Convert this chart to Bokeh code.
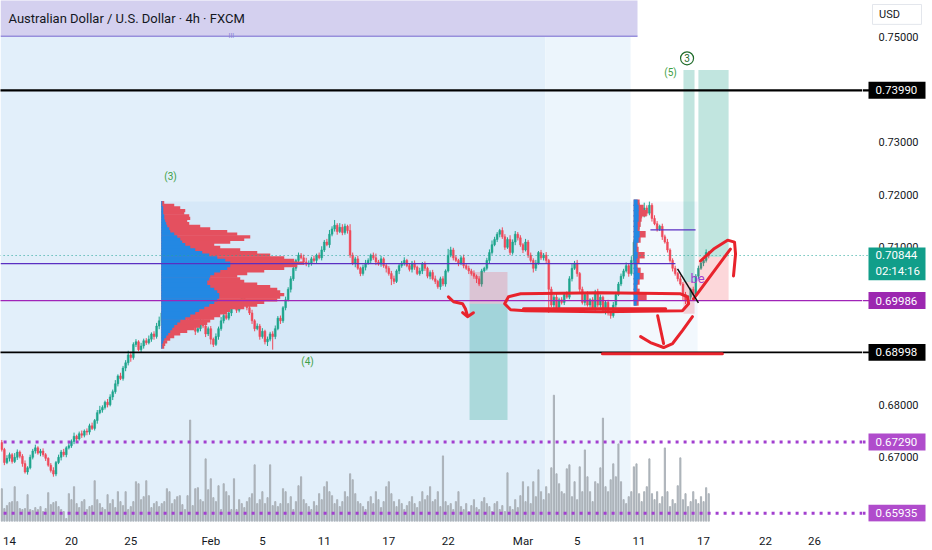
import numpy as np
from bokeh.plotting import figure
from bokeh.layouts import row
from bokeh.models import Range1d, FixedTicker, ColumnDataSource
from bokeh.core.properties import value
from bokeh.embed import file_html
from bokeh.resources import INLINE

PIP = 0.0001

# ---------------- price data (4h bars, prices in pips) ----------------
first_open = 6728
closes = [
    6715, 6690, 6698, 6705, 6692, 6700, 6710, 6702,
    6688, 6672, 6680, 6700, 6712,
    6718, 6708, 6712, 6705, 6698,
    6685, 6675, 6668, 6690,
    6700, 6710, 6705, 6718, 6722, 6730,
    6740, 6735, 6745, 6742, 6750, 6748,
    6760, 6755, 6770, 6785, 6790,
    6795, 6805, 6800, 6815, 6825,
    6840, 6855, 6850, 6870, 6880,
    6895, 6890,
    6915, 6920, 6905, 6912, 6922, 6918,
    6925, 6935, 6930, 6950, 6960,
    6975, 6965, 6980, 6990, 6970, 6960, 6975, 6985, 6970,
    6960, 6950, 6965, 6955, 6940, 6945, 6960, 6950, 6935, 6945,
    6925, 6915, 6930, 6945, 6960, 6970, 6965, 6975,
    6985, 6995, 6980, 6990, 7005, 6995, 6985, 6975,
    6960, 6945, 6950, 6930, 6940, 6920, 6925, 6935,
    6930,
    6945, 6965, 6960, 6985, 7000, 7020, 7040,
    7060, 7075, 7085, 7080, 7072, 7068,
    7070, 7078, 7075, 7085, 7080,
    7095, 7110, 7105, 7125,
    7135, 7142, 7130, 7138, 7128, 7140, 7132,
    7085, 7070, 7078, 7060, 7050, 7062, 7070,
    7075, 7085, 7080, 7072, 7068, 7078, 7065, 7060,
    7050, 7040, 7035, 7055, 7065, 7070,
    7075, 7065, 7058, 7070, 7062, 7050, 7055, 7068, 7060, 7045, 7052, 7040,
    7035, 7025, 7040, 7030,
    7055, 7085, 7095, 7080,
    7075, 7070, 7080, 7065, 7060, 7055, 7050,
    7045, 7040, 7030, 7055, 7060,
    7075, 7090, 7105, 7115, 7125, 7132, 7120,
    7100, 7115, 7090, 7110, 7125, 7118,
    7105, 7095, 7110, 7085, 7075,
    7060, 7070, 7090, 7080, 7085,
    7075, 7020, 6990, 7005, 6985, 7000,
    6995, 7010, 7005,
    7040, 7060, 7070, 7050,
    7020, 6995, 7010, 6990,
    7000, 6985, 7015, 6990, 7005, 6980, 6995,
    6975, 6970,
    6990, 7010, 7030, 7045,
    7055, 7065, 7050, 7075,
    7110, 7140, 7170, 7160,
    7175, 7165, 7180, 7155, 7145,
    7135, 7140, 7120, 7110,
    7095, 7075, 7060, 7050,
    7040, 7030, 7010, 6998,
    7005, 7020, 7010,
    7045, 7060, 7070,
    7075, 7090, 7084,
]
wick_up = [
    5, 3, 6, 4, 3, 8, 5, 3, 4, 6, 3, 5, 4, 6, 3, 4, 5, 3, 2, 4,
    6, 3, 5, 4, 6, 3, 5, 4, 7, 3, 4, 6, 3, 5, 4, 6, 3, 5, 8, 4,
    3, 6, 5, 4, 7, 3, 6, 4, 5, 8, 6, 4, 5, 3, 6, 4, 5, 7, 3, 5,
    6, 8, 4, 5, 3, 6, 5, 4, 7, 3, 5, 4, 6, 3, 5, 4, 7, 5, 3, 6,
    4, 5, 3, 6, 4, 7, 5, 3, 6, 4, 5, 6, 4, 8, 3, 5, 4, 6, 3, 5,
    4, 6, 3, 5, 4, 5, 6, 4, 5, 3, 6, 4, 5, 7, 3, 5, 4, 6, 8, 5,
    4, 6, 3, 5, 7, 4, 6, 8, 5, 10, 4, 8, 6, 5, 3, 12, 5, 4, 6, 3,
    5, 6, 4, 3, 5, 8, 4, 6, 3, 5, 4, 5, 6, 3, 5, 4, 6, 3, 5, 4,
    5, 3, 6, 4, 5, 3, 4, 5, 6, 3, 4, 5, 3, 12, 6, 4, 5, 3, 4, 6,
    3, 5, 4, 6, 3, 5, 4, 3, 5, 6, 8, 5, 4, 3, 6, 5, 4, 8, 5, 6,
    4, 5, 3, 6, 4, 5, 4, 6, 3, 5, 4, 6, 3, 5, 4, 6, 4, 5, 3, 6,
    5, 8, 4, 6, 3, 5, 4, 6, 3, 5, 4, 6, 5, 3, 4, 5, 4, 6, 5, 4,
    5, 4, 6, 3, 8, 5, 6, 15, 8, 10, 5, 7, 4, 6, 5, 3, 5, 4, 6, 3,
    4, 5, 3, 6, 4, 5, 4, 3, 5, 4, 5, 3, 4, 6, 3,
]
wick_dn = [
    4, 5, 3, 6, 4, 3, 5, 4, 6, 3, 5, 3, 4, 5, 3, 6, 4, 5, 3, 4,
    5, 4, 3, 6, 4, 5, 3, 4, 5, 6, 3, 5, 4, 6, 5, 3, 4, 6, 3, 5,
    4, 5, 3, 6, 4, 5, 3, 4, 6, 5, 8, 4, 5, 3, 6, 5, 4, 3, 5, 6,
    4, 6, 5, 3, 4, 6, 5, 3, 6, 4, 5, 3, 6, 4, 5, 7, 3, 5, 4, 6,
    4, 10, 5, 3, 6, 4, 5, 3, 4, 6, 3, 5, 4, 6, 3, 5, 4, 6, 5, 3,
    6, 4, 5, 8, 4, 25, 5, 3, 6, 4, 5, 3, 6, 4, 5, 7, 3, 5, 4, 6,
    5, 4, 6, 3, 5, 4, 3, 6, 4, 5, 6, 3, 5, 4, 6, 5, 4, 8, 3, 5,
    4, 6, 3, 5, 4, 6, 3, 5, 4, 8, 4, 12, 5, 3, 6, 4, 5, 3, 4, 6,
    5, 3, 4, 6, 5, 4, 6, 3, 5, 4, 6, 4, 5, 3, 4, 5, 3, 6, 4, 5,
    3, 6, 4, 5, 8, 4, 5, 3, 4, 6, 4, 3, 5, 6, 4, 5, 3, 5, 4, 6,
    5, 4, 6, 3, 5, 4, 8, 5, 3, 4, 5, 6, 45, 4, 8, 5, 6, 4, 5, 3,
    4, 5, 3, 6, 5, 4, 6, 3, 5, 4, 6, 4, 5, 3, 8, 5, 6, 4, 5, 3,
    4, 5, 3, 6, 4, 5, 4, 6, 5, 3, 5, 4, 6, 3, 5, 4, 6, 3, 5, 4,
    6, 4, 5, 3, 12, 6, 4, 5, 3, 4, 5, 3, 6, 4, 5,
]
volume = [
    33, 13, 16, 19, 20, 35, 20, 13, 12, 13, 27, 12, 11, 14, 12, 15, 10, 13, 29, 17,
    19, 20, 15, 12, 10, 3, 28, 22, 35, 18, 14, 20, 22, 12, 15, 16, 41, 22, 18, 14,
    12, 27, 18, 22, 14, 30, 20, 16, 30, 12, 15, 20, 40, 38, 22, 25, 41, 26, 14, 18,
    20, 15, 18, 20, 33, 30, 18, 22, 25, 26, 17, 12, 26, 102, 16, 33, 34, 22, 20, 63,
    32, 43, 24, 20, 36, 12, 38, 30, 26, 12, 43, 12, 22, 18, 14, 20, 24, 28, 57, 18,
    22, 30, 18, 24, 57, 16, 20, 15, 18, 33, 30, 18, 25, 12, 20, 36, 45, 22, 18, 15,
    12, 20, 16, 28, 22, 35, 40, 30, 26, 18, 22, 15, 20, 30, 25, 48, 42, 28, 20, 18,
    15, 12, 20, 25, 18, 30, 22, 14, 20, 35, 40, 28, 20, 15, 22, 18, 12, 16, 20, 25,
    18, 14, 20, 30, 22, 26, 35, 20, 22, 30, 15, 66, 20, 16, 18, 12, 20, 30, 15, 12,
    18, 10, 16, 22, 14, 12, 20, 24, 18, 15, 10, 18, 20, 12, 16, 10, 49, 15, 12, 22,
    14, 26, 40, 20, 35, 18, 40, 25, 52, 30, 22, 35, 28, 54, 127, 48, 38, 30, 28, 53,
    57, 25, 40, 22, 55, 30, 72, 45, 30, 20, 40, 38, 54, 104, 35, 30, 42, 58, 45, 78,
    40, 22, 18, 25, 30, 55, 58, 28, 20, 30, 35, 63, 28, 22, 30, 18, 25, 74, 30, 15,
    22, 18, 36, 64, 22, 28, 15, 20, 30, 22, 18, 25, 20, 34, 28,
]

# x axis (bar index of each date label)
tick_bars = [3, 27, 50, 81, 101, 125, 150, 173, 202, 223, 247, 272, 296, 315]
tick_labels = ["14", "20", "25", "Feb", "5", "11", "17", "22", "Mar", "5", "11", "17", "22", "26"]
price_ticks = [0.67, 0.68, 0.71, 0.72, 0.73, 0.75]

# levels
level_top = 0.73990
level_support = 0.68998
level_mid = 0.69986
level_poc = 0.7069
level_short = 0.7133
last_price = 0.70844
countdown = "02:14:16"
dotted_levels = [0.67290, 0.65935]

# fixed-range volume profile (rows of 5 pips from 7185 down to 6910)
vp1_prices = list(range(7185, 6905, -5))
vp1_total = [3, 13, 19, 24, 23, 28, 29, 26, 28, 39, 49, 66, 76, 89, 83, 69, 53, 59, 79, 96,
             109, 123, 133, 143, 136, 123, 103, 86, 76, 79, 83, 96, 109, 116, 119, 123, 119, 116, 103, 96,
             83, 69, 66, 59, 53, 49, 46, 39, 33, 26, 19, 13, 9, 6, 4, 3]
vp1_up = [1, 1, 2, 2, 2, 3, 3, 4, 5, 6, 8, 9, 13, 16, 19, 21, 24, 29, 34, 41,
          48, 56, 64, 69, 69, 66, 59, 53, 49, 48, 46, 46, 49, 53, 56, 58, 58, 56, 53, 48,
          43, 38, 34, 29, 24, 19, 16, 13, 11, 9, 7, 5, 3, 2, 1, 1]
# small session profile (rows of 10 pips from 7185 down to 6995)
vp2_prices = list(range(7185, 6985, -10))
vp2_total = [6, 10, 13, 8, 7, 6, 12, 7, 4, 5, 11, 6, 4, 7, 10, 6, 4, 6, 13, 5]
vp2_up = [4, 5, 5, 5, 4, 4, 6, 5, 3, 3, 4, 3, 3, 4, 6, 4, 3, 3, 4, 3]

# ---------------- derived OHLC ----------------
c = np.array(closes) * PIP
o = np.concatenate([[first_open * PIP], c[:-1]])
hi = np.maximum(o, c) + np.array(wick_up) * PIP
lo = np.minimum(o, c) - np.array(wick_dn) * PIP
idx = np.arange(len(c))
inc = c >= o
UP, DN = "#1ea58d", "#ef4a5b"
colors = np.where(inc, UP, DN)
src = ColumnDataSource(dict(x=idx, o=o, c=c, hi=hi, lo=lo, col=colors, vol=volume))

W_MAIN, W_SCALE, H = 862, 70, 550
BOTTOM = 26
FRAME_H = H - BOTTOM
X0, X1 = -0.5, 333.6
Y1 = 0.75701
Y0 = 0.65777
PX = FRAME_H / (Y1 - Y0)          # pixels per price unit (for tag heights)

p = figure(width=W_MAIN, height=H, x_range=Range1d(X0, X1), y_range=Range1d(Y0, Y1),
           output_backend="svg", toolbar_location=None, y_axis_location=None,
           min_border_left=0, min_border_top=0, min_border_right=0, min_border_bottom=BOTTOM,
           background_fill_color="white", border_fill_color="white", outline_line_color=None)
p.extra_y_ranges = {"vol": Range1d(0, FRAME_H)}
p.xgrid.visible = False
p.ygrid.visible = False

# backgrounds
p.quad(left=[X0, 210.7], right=[210.7, 243.7], bottom=Y0, top=0.75019,
       fill_color=["#e2effa", "#ecf5fc"], line_color=None)
p.quad(left=61.8, right=269.7, bottom=0.6900, top=0.7187, fill_color="#2a8be0",
       fill_alpha=0.06, line_color=None)

# volume
p.vbar(x="x", top="vol", bottom=0, width=0.45, source=src, y_range_name="vol",
       color="#a9afb6", alpha=0.9)

# candles
p.segment(x0="x", y0="lo", x1="x", y1="hi", source=src, line_color="col", line_width=1)
p.vbar(x="x", top="o", bottom="c", width=0.7, source=src, fill_color="col", line_color="col",
       line_width=0.5)

# volume profiles
VP_PX_PER_BAR = 2.58
def profile(left, prices, total, up, row_h):
    yy = np.array(prices) * PIP
    tb = np.array(total) / VP_PX_PER_BAR
    ub = np.array(up) / VP_PX_PER_BAR
    p.hbar(y=yy, left=left, right=left + tb, height=row_h * 1.25, fill_color="#e4505f", line_color=None)
    p.hbar(y=yy, left=left, right=left + ub, height=row_h * 1.25, fill_color="#2388e3", line_color=None)
profile(61.8, vp1_prices, vp1_total, vp1_up, 5 * PIP)
profile(244.9, vp2_prices, vp2_total, vp2_up, 10 * PIP)

# position tools
p.quad(left=[181.3, 264.2, 270.0], right=[196.0, 268.5, 281.7],
       bottom=[0.69924, 0.69735, 0.69981], top=[0.70530, 0.70341, 0.70814],
       fill_color="#f23645", fill_alpha=0.2, line_color=None)
p.quad(left=[181.3, 264.2, 270.0], right=[196.0, 268.5, 281.7],
       bottom=[0.67708, 0.70341, 0.70814], top=[0.69924, 0.74375, 0.74375],
       fill_color="#089981", fill_alpha=0.25, line_color=None)

# title band
p.quad(left=X0, right=246.4, bottom=0.75019, top=Y1 + 0.001, fill_color="#d4d0ef", line_color=None)
p.line([X0, 246.4], [0.75019, 0.75019], line_color="#978fdc", line_width=1.5)

# levels
FULL = [X0 - 5, X1 + 5]
p.line(FULL, [last_price] * 2, line_color="#26a69a", line_width=1, line_dash="1 3")
p.line(FULL, [level_top] * 2, line_color="#000000", line_width=2.2)
p.line(FULL, [level_support] * 2, line_color="#000000", line_width=1.6)
p.line(FULL, [level_mid] * 2, line_color="#a024b8", line_width=1.3)
p.line([X0, 261.1], [level_poc] * 2, line_color="#5a2fc2", line_width=1.3)
p.line([251.4, 268.9], [level_short] * 2, line_color="#5a2fc2", line_width=1.3)
for lv in dotted_levels:
    p.line(FULL, [lv, lv], line_color="#a23fcf", line_width=3, line_dash="3 5")

# hand-drawn annotations (bar index, price)
RED = "#e8232c"
strokes = [
    ([201.1, 232.1, 263.1, 265.8, 266.2, 263.8, 232.1, 203.0, 197.2, 194.9, 196.4, 201.1],
     [0.70114, 0.70133, 0.70114, 0.70057, 0.69924, 0.69792, 0.69773, 0.69792, 0.69811, 0.69924, 0.70057, 0.70114]),
    ([202.2, 257.3], [0.69830, 0.69830]),
    ([173.1, 175.1, 178.6, 179.7, 180.5], [0.70057, 0.69962, 0.69924, 0.69830, 0.69697]),
    ([178.6, 180.5, 182.8], [0.69754, 0.69678, 0.69754]),
    ([254.2, 256.5], [0.69697, 0.69167]),
    ([247.6, 251.4, 256.5, 260.0, 263.8, 267.7], [0.69299, 0.69186, 0.69091, 0.69167, 0.69413, 0.69678]),
    ([268.1, 282.4], [0.70019, 0.70966]),
    ([270.8, 275.9, 281.3, 284.0, 284.4, 283.6], [0.70739, 0.70966, 0.71136, 0.71098, 0.70871, 0.70455]),
    ([232.8, 279.3], [0.68970, 0.68970]),
]
for xs, ys in strokes:
    p.line(xs, ys, line_color=RED, line_width=3, line_join="round", line_cap="round")
p.line([261.9, 270.0], [0.70587, 0.69943], line_color="#111111", line_width=1.5)

# wave labels
wave = ColumnDataSource(dict(x=[65.4, 118.5, 259.2], y=[0.72348, 0.68826, 0.74337],
                             t=["(3)", "(4)", "(5)"]))
p.text(x="x", y="y", text="t", source=wave, text_color="#3f9f45", text_font=value("Roboto"),
       text_font_size="10px", text_align="center", text_baseline="middle")
p.scatter([265.6], [0.74600], size=13, fill_color=None, line_color="#1f6b2a", line_width=1.2)
p.text([265.6], [0.74600], text=["3"], text_color="#1f6b2a", text_font=value("Roboto"),
       text_font_size="10px", text_align="center", text_baseline="middle")
p.text([269.7], [0.70398], text=["be"], text_color="#a23fcf", text_font=value("Roboto"),
       text_font_size="13px", text_align="center", text_baseline="middle")
p.text([2.6], [0.75360], text=["Australian Dollar / U.S. Dollar · 4h · FXCM"], text_color="#131722",
       text_font=value("Roboto"), text_font_size="13px", text_align="left", text_baseline="middle")
p.text([89.0], [0.7502], text=["III"], text_color="#8a83d6", text_font=value("Roboto"),
       text_font_size="7px", text_align="center", text_baseline="middle")

# date axis
xa = p.xaxis[0]
xa.ticker = FixedTicker(ticks=tick_bars)
xa.major_label_overrides = {b: t for b, t in zip(tick_bars, tick_labels)}
xa.axis_line_color = None
xa.major_tick_line_color = None
xa.minor_tick_line_color = None
xa.major_label_text_font = "Roboto"
xa.major_label_text_font_size = "11.5px"
xa.major_label_text_color = "#131722"
xa.major_label_standoff = 6

# ---------------- price scale (shares the price range) ----------------
s = figure(width=W_SCALE, height=H, x_range=Range1d(0, W_SCALE), y_range=p.y_range,
           output_backend="svg", toolbar_location=None, x_axis_location=None, y_axis_location=None,
           min_border_left=0, min_border_top=0, min_border_right=0, min_border_bottom=BOTTOM,
           background_fill_color="white", border_fill_color="white", outline_line_color=None)
s.xgrid.visible = False
s.ygrid.visible = False

s.text(x=[16] * len(price_ticks), y=price_ticks, text=[f"{t:.5f}" for t in price_ticks],
       text_color="#131722", text_font=value("Roboto"), text_font_size="11px",
       text_align="left", text_baseline="middle")

# level lines continuing up to their tags
s.line([0, 8], [last_price] * 2, line_color="#26a69a", line_width=1, line_dash="1 3")
s.line([0, 8], [level_top] * 2, line_color="#000000", line_width=2.2)
s.line([0, 8], [level_support] * 2, line_color="#000000", line_width=1.6)
s.line([0, 8], [level_mid] * 2, line_color="#a024b8", line_width=1.3)
for lv in dotted_levels:
    s.line([0, 8], [lv, lv], line_color="#a23fcf", line_width=3, line_dash="3 5")

tag_y = [level_top, level_mid, level_support, dotted_levels[0], dotted_levels[1]]
tag_col = ["#000000", "#9c27b0", "#000000", "#b04ccc", "#b04ccc"]
TAG_H = 17 / PX
s.quad(left=6, right=63, bottom=[y - TAG_H / 2 for y in tag_y],
       top=[y + TAG_H / 2 for y in tag_y], fill_color=tag_col, line_color=None)
s.text(x=[13] * len(tag_y), y=tag_y, text=[f"{y:.5f}" for y in tag_y], text_color="white",
       text_font=value("Roboto"), text_font_size="11.5px", text_align="left", text_baseline="middle")

# last price tag with countdown
s.quad(left=6, right=63, bottom=last_price - 25 / PX, top=last_price + 8 / PX,
       fill_color="#119e8a", line_color=None)
s.text(x=[13, 13], y=[last_price, last_price - 16 / PX], text=[f"{last_price:.5f}", countdown],
       text_color="white", text_font=value("Roboto"), text_font_size="11.5px",
       text_align="left", text_baseline="middle")

# currency box
s.quad(left=10, right=59, bottom=Y1 - 24 / PX, top=Y1 - 4 / PX, fill_color="white",
       line_color="#e3e6ec", line_width=1)
s.text([27], [Y1 - 14 / PX], text=["USD"], text_color="#131722", text_font=value("Roboto"),
       text_font_size="11px", text_align="center", text_baseline="middle")

layout = row(p, s, spacing=0)
open("out.html", "w").write(file_html(layout, INLINE))
